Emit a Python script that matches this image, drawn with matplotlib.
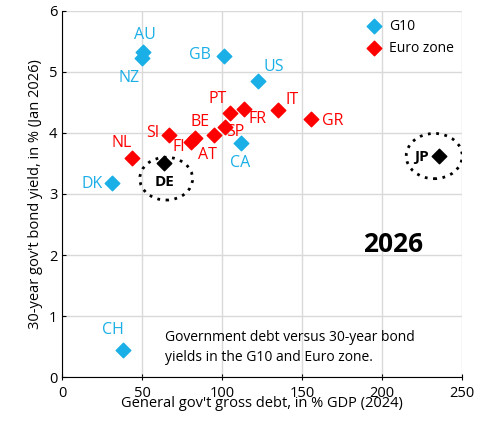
import matplotlib
matplotlib.use("Agg")
import matplotlib.pyplot as plt
from matplotlib.patches import Ellipse

plt.rcParams['font.family'] = ['Open Sans', 'DejaVu Sans']

g10_names = ['AU', 'NZ', 'GB', 'US', 'CA', 'DK', 'CH']
g10_debt = [50.5, 50.0, 101.4, 122.3, 111.5, 31.3, 37.7]
g10_yield = [5.32, 5.23, 5.26, 4.84, 3.84, 3.18, 0.45]

ez_names = ['PT', 'FR', 'IT', 'GR', 'SP', 'AT', 'BE', 'FI', 'SI', 'NL']
ez_debt = [104.7, 113.4, 135.1, 155.3, 101.6, 94.7, 83.0, 80.5, 66.7, 43.7]
ez_yield = [4.32, 4.39, 4.37, 4.23, 4.10, 3.97, 3.91, 3.85, 3.96, 3.59]

hl_names = ['DE', 'JP']
hl_debt = [63.6, 235.7]
hl_yield = [3.51, 3.62]

blue = '#1AAFE6'
red = '#FF0000'

# label anchor positions (styling)
lab = {'AU': (52, 5.6), 'NZ': (42, 4.9), 'GB': (86, 5.27), 'US': (132.5, 5.07), 'CA': (111.3, 3.51),
       'DK': (18.7, 3.17), 'CH': (32, 0.78),
       'PT': (97, 4.56), 'FR': (122, 4.22), 'IT': (143.6, 4.53), 'GR': (169, 4.2), 'SP': (108, 4.02),
       'AT': (91, 3.63), 'BE': (86, 4.17), 'FI': (72.7, 3.76), 'SI': (56.6, 4.0), 'NL': (37.3, 3.83),
       'DE': (64, 3.19), 'JP': (224.5, 3.6)}

fig = plt.figure(figsize=(4.82, 4.23), dpi=100)
ax = fig.add_axes([0.129, 0.108, 0.83, 0.867])
ax.scatter(g10_debt, g10_yield, marker='D', s=55, color=blue, label='G10', zorder=3)
ax.scatter(ez_debt, ez_yield, marker='D', s=55, color=red, label='Euro zone', zorder=3)
ax.scatter(hl_debt, hl_yield, marker='D', s=55, color='black', zorder=3)

for n in g10_names:
    ax.text(*lab[n], n, color=blue, fontsize=11.5, ha='center', va='center')
for n in ez_names:
    ax.text(*lab[n], n, color=red, fontsize=11.5, ha='center', va='center')
for n in hl_names:
    ax.text(*lab[n], n, fontsize=11, fontweight='bold', ha='center', va='center')
ax.add_patch(Ellipse((65, 3.25), 33, 0.7, fill=False, ls=(0, (1, 2)), lw=2, zorder=2))
ax.add_patch(Ellipse((232.5, 3.62), 35, 0.74, fill=False, ls=(0, (1, 2)), lw=2, zorder=2))

ax.text(207, 2.18, '2026', fontsize=19, fontweight='bold', ha='center', va='center')
ax.text(64, 0.49, 'Government debt versus 30-year bond\nyields in the G10 and Euro zone.',
        fontsize=10, va='center', ha='left', linespacing=1.5)

ax.set_xlim(0, 250)
ax.set_ylim(0, 6)
ax.set_xticks([0, 50, 100, 150, 200, 250])
ax.set_yticks(range(7))
ax.grid(True, color='#D9D9D9', lw=1)
ax.set_axisbelow(True)
for s in ['top', 'right']:
    ax.spines[s].set_visible(False)
ax.tick_params(labelsize=10.5, direction='in', length=3)
ax.tick_params(axis='x', direction='inout', length=5)
ax.set_xlabel("General gov't gross debt, in % GDP (2024)", fontsize=10.5, labelpad=-3)
ax.set_ylabel("30-year gov't bond yield, in % (Jan 2026)", fontsize=10.5)
ax.legend(loc='upper right', frameon=False, fontsize=10, handletextpad=0.1, borderaxespad=0.2)
fig.savefig('out.png')
